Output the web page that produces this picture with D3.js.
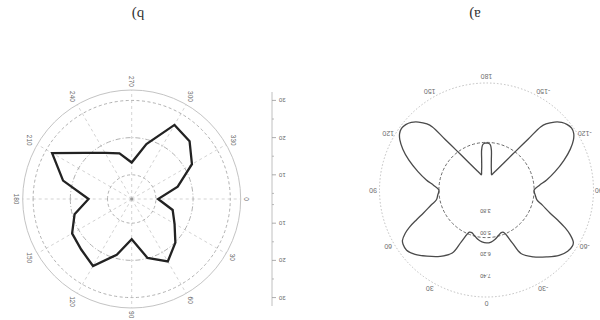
<!DOCTYPE html>
<html>
<head>
<meta charset="utf-8">
<script src="https://cdn.jsdelivr.net/npm/d3@7"></script>
<style>
  body { margin: 0; background: #fff; }
  text { font-family: "Liberation Sans", "DejaVu Sans", sans-serif; }
</style>
</head>
<body>
<svg id="chart" width="600" height="320"></svg>
<script>
// ---- Panel a: radiation pattern (angle in degrees, clockwise from 0 at top) ----
const patternAngles = [
  -180, -177, -175, -173, -171, -168, -165, -161.6, -158, -153.4, -147.4, -142.9, -140.7, -139.4,
  -138, -135, -132, -129, -126, -123, -120, -116, -111, -105, -99.5, -95, -90,
  -84, -79, -75, -70, -67, -64.3, -62, -59, -57, -53, -48, -42, -35, -28.5, -26, -22, -19, -15, -10, -5,
  0,
  5, 10, 15, 19, 22, 26, 28.5, 35, 42, 48, 53, 57, 59, 62, 64.3, 67, 70, 75, 79, 84,
  90, 95, 99.5, 105, 111, 116, 120, 123, 126, 129, 132, 135, 138,
  139.4, 140.7, 142.9, 147.4, 153.4, 158, 161.6, 165, 168, 171, 173, 175, 177, 180
];
const patternValues = [
  5.24, 5.21, 5.13, 4.85, 4.34, 3.89, 3.67, 3.50, 3.61, 3.84, 4.40, 5.35, 6.30, 7.26,
  7.59, 7.99, 8.27, 8.43, 8.50, 8.43, 8.23, 7.83, 7.25, 6.58, 6.02, 5.57, 5.27,
  5.35, 5.48, 5.83, 6.40, 6.95, 7.50, 7.90, 8.28, 8.35, 8.30, 8.08, 7.65, 7.18, 6.65, 5.90, 5.16, 5.13, 5.23, 5.40, 5.53,
  5.57,
  5.52, 5.41, 5.24, 5.13, 5.15, 5.85, 6.62, 7.14, 7.59, 7.99, 8.21, 8.18, 8.10, 7.76, 7.39, 6.86, 6.36, 5.80, 5.46, 5.35,
  5.27, 5.57, 6.02, 6.58, 7.26, 7.82, 8.21, 8.41, 8.49, 8.43, 8.27, 7.99, 7.59,
  7.26, 6.30, 5.35, 4.40, 3.84, 3.61, 3.50, 3.67, 3.89, 4.34, 4.85, 5.13, 5.21, 5.24
];
const referenceLevel = 5.27;                       // dashed reference circle
const aRadialLimits = [2.6, 8.6];
const aRadialTicks = [3.8, 5.0, 6.2, 7.4];
const aAngleTicks = [0, 30, 60, 90, 120, 150, 180, -150, -120, -90, -60, -30];

// ---- Panel b: measured levels every 15 degrees ----
const levelAngles = [0, 15, 30, 45, 60, 75, 90, 105, 120, 135, 150, 165,
                     180, 195, 210, 225, 240, 255, 270, 285, 300, 315, 330, 345];
const levelValues = [10.6, 14.9, 16.8, 20.1, 22.9, 19.9, 14.3, 19.0, 24.3, 22.7, 22.0, 19.4,
                     15.1, 22.6, 28.2, 21.0, 17.8, 16.2, 13.3, 18.8, 26.5, 25.5, 22.2, 16.3];
const bRadialLimits = [3.5, 32.8];
const bGridValues = [10, 20, 30];
const bMinorValues = [5, 15, 25];
const bAngleTicks = [0, 30, 60, 90, 120, 150, 180, 210, 240, 270, 300, 330];

const panelTitles = ["a)", "b)"];

const svg = d3.select("#chart");
// the whole figure is drawn turned half a revolution
const fig = svg.append("g").attr("transform", "rotate(180 300 160)");

// ================= Panel a =================
{
  const cx = 113.5, cy = 130, R = 107;
  const g = fig.append("g").attr("transform", `translate(${cx},${cy})`);
  const r = d3.scaleLinear().domain(aRadialLimits).range([0, R]);
  const ang = d3.scaleLinear().domain([0, 360]).range([0, 2 * Math.PI]);

  g.append("circle").attr("r", r(aRadialLimits[1]))
    .attr("fill", "none").attr("stroke", "#b8b8b8").attr("stroke-width", 0.9)
    .attr("stroke-dasharray", "1.5,2");

  g.append("circle").attr("r", r(referenceLevel))
    .attr("fill", "none").attr("stroke", "#6a6a6a").attr("stroke-width", 1)
    .attr("stroke-dasharray", "3,2");

  // angle labels
  g.selectAll("text.ang").data(aAngleTicks).join("text")
    .attr("class", "ang")
    .attr("x", d => (R + 6.5) * Math.sin(ang(d)))
    .attr("y", d => -(R + 6.5) * Math.cos(ang(d)))
    .attr("text-anchor", "middle").attr("dominant-baseline", "central")
    .attr("font-size", 7).attr("fill", "#6e6e6e")
    .text(d => d);

  // radial labels along the 0 spoke
  g.selectAll("text.rad").data(aRadialTicks).join("text")
    .attr("class", "rad")
    .attr("x", 1)
    .attr("y", d => -r(d))
    .attr("text-anchor", "middle").attr("dominant-baseline", "central")
    .attr("font-size", 5.5).attr("fill", "#555")
    .text(d => d3.format(".2f")(d));

  const line = d3.lineRadial()
    .angle((d, i) => ang(patternAngles[i]))
    .radius(d => r(d))
    .curve(d3.curveCatmullRom.alpha(0.5));
  g.append("path").datum(patternValues)
    .attr("d", line)
    .attr("fill", "none").attr("stroke", "#4a4a4a").attr("stroke-width", 1.3);
}

// ================= Panel b =================
{
  const cx = 468.3, cy = 121, R = 109;
  const g = fig.append("g").attr("transform", `translate(${cx},${cy})`);
  const r = d3.scaleLinear().domain(bRadialLimits).range([0, R]);
  // 0 on the left, 90 at the top
  const ang = d3.scaleLinear().domain([0, 360]).range([-Math.PI / 2, 1.5 * Math.PI]);

  g.append("circle").attr("r", R)
    .attr("fill", "none").attr("stroke", "#c4c4c4").attr("stroke-width", 1);

  g.selectAll("line.spoke").data(bAngleTicks).join("line")
    .attr("class", "spoke")
    .attr("x1", 0).attr("y1", 0)
    .attr("x2", d => R * Math.sin(ang(d)))
    .attr("y2", d => -R * Math.cos(ang(d)))
    .attr("stroke", "#c8c8c8").attr("stroke-width", 0.8)
    .attr("stroke-dasharray", "3,3");

  g.selectAll("circle.grid").data(bGridValues).join("circle")
    .attr("class", "grid")
    .attr("r", d => r(d))
    .attr("fill", "none").attr("stroke", "#a8a8a8").attr("stroke-width", 0.9)
    .attr("stroke-dasharray", (d, i) => i === 1 ? "5,2,1,2" : "3,2.5");

  g.append("circle").attr("r", 1.5).attr("fill", "#999");

  // angle labels, set upright-sideways; offset grows with the label's extent
  g.selectAll("text.ang").data(bAngleTicks).join("text")
    .attr("class", "ang")
    .attr("transform", d => {
      const a = ang(d), w = String(d).length * 3.7, h = 6.5;
      const off = R + 3 + Math.abs(Math.cos(a)) * w / 2 + Math.abs(Math.sin(a)) * h / 2;
      return `translate(${off * Math.sin(a)},${-off * Math.cos(a)}) rotate(-90)`;
    })
    .attr("text-anchor", "middle").attr("dominant-baseline", "central")
    .attr("font-size", 6.5).attr("fill", "#666")
    .text(d => d);

  const line = d3.lineRadial()
    .angle((d, i) => ang(levelAngles[i]))
    .radius(d => r(d))
    .curve(d3.curveLinearClosed);
  g.append("path").datum(levelValues)
    .attr("d", line)
    .attr("fill", "none").attr("stroke", "#222").attr("stroke-width", 2.3)
    .attr("stroke-linejoin", "miter");

  // side radial axis, mirrored about the centre
  const ax = 328 - cx;
  g.append("line").attr("x1", ax).attr("x2", ax)
    .attr("y1", -R + 2).attr("y2", R - 2)
    .attr("stroke", "#b0b0b0").attr("stroke-width", 0.8);
  const majors = bGridValues.flatMap(v => [{v, s: -1}, {v, s: 1}]);
  const minors = bMinorValues.flatMap(v => [{v, s: -1}, {v, s: 1}]);
  g.selectAll("line.maj").data(majors).join("line")
    .attr("class", "maj")
    .attr("x1", ax).attr("x2", ax - 4)
    .attr("y1", d => d.s * r(d.v)).attr("y2", d => d.s * r(d.v))
    .attr("stroke", "#999").attr("stroke-width", 0.8);
  g.selectAll("line.min").data(minors).join("line")
    .attr("class", "min")
    .attr("x1", ax).attr("x2", ax - 2)
    .attr("y1", d => d.s * r(d.v)).attr("y2", d => d.s * r(d.v))
    .attr("stroke", "#aaa").attr("stroke-width", 0.8);
  g.selectAll("text.axl").data(majors).join("text")
    .attr("class", "axl")
    .attr("x", ax - 7).attr("y", d => d.s * r(d.v))
    .attr("text-anchor", "end").attr("dominant-baseline", "central")
    .attr("font-size", 6).attr("fill", "#666")
    .text(d => d.v);
}

// ---- panel titles ----
fig.selectAll("text.title").data(panelTitles).join("text")
  .attr("class", "title")
  .attr("x", (d, i) => i === 0 ? 125 : 462)
  .attr("y", 305)
  .attr("text-anchor", "middle").attr("dominant-baseline", "central")
  .style("font-family", "'Liberation Serif', 'DejaVu Serif', serif")
  .attr("font-size", 15).attr("fill", "#333")
  .text(d => d);
</script>
</body>
</html>
